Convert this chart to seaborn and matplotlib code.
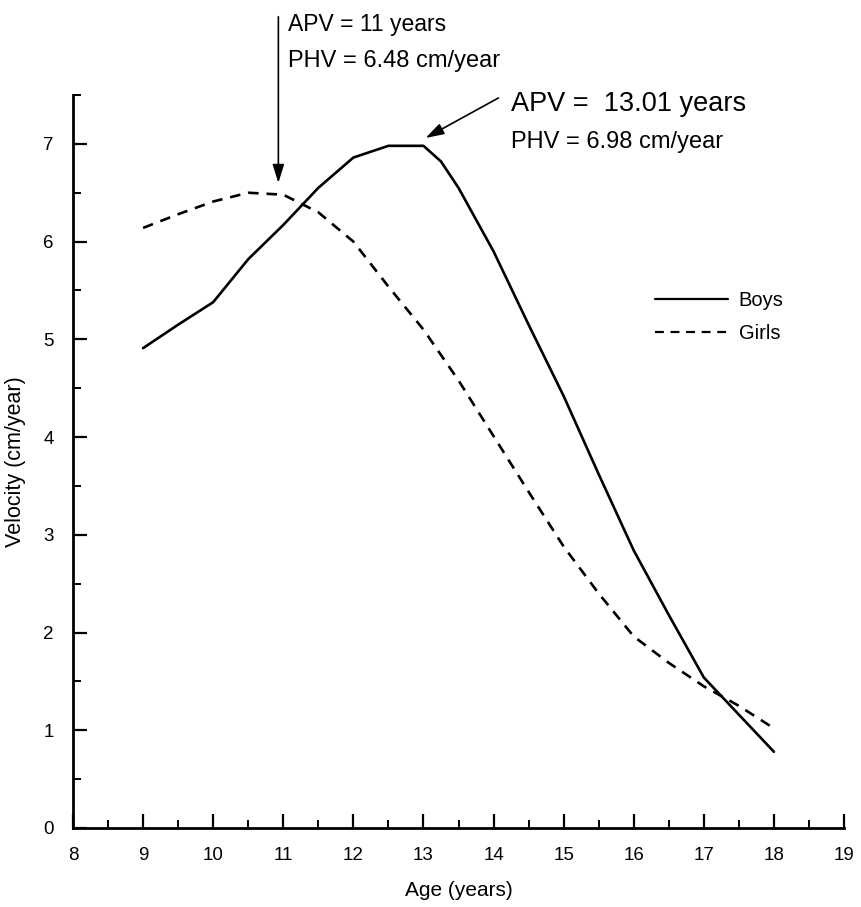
import matplotlib
matplotlib.use("Agg")
import matplotlib.pyplot as plt
from matplotlib.ticker import MultipleLocator
from matplotlib.lines import Line2D
import seaborn as sns
import pandas as pd

# Mean height velocity by age
boys_age = [9.0, 9.5, 10.0, 10.5, 11.0, 11.5, 12.0, 12.5, 13.0, 13.25, 13.5,
            14.0, 14.5, 15.0, 15.5, 16.0, 16.5, 17.0, 17.5, 18.0]
boys_vel = [4.91, 5.15, 5.38, 5.82, 6.17, 6.55, 6.86, 6.98, 6.98, 6.82, 6.55,
            5.90, 5.15, 4.42, 3.62, 2.84, 2.18, 1.54, 1.16, 0.78]

girls_age = [9.0, 9.5, 10.0, 10.5, 11.0, 11.5, 12.0, 12.5, 13.0, 13.5,
             14.0, 14.5, 15.0, 15.5, 16.0, 16.5, 17.0, 17.5, 18.0]
girls_vel = [6.14, 6.28, 6.41, 6.50, 6.48, 6.30, 6.00, 5.54, 5.10, 4.58,
             4.01, 3.44, 2.88, 2.40, 1.96, 1.69, 1.45, 1.25, 1.02]

x_ticks = list(range(8, 20))
y_ticks = list(range(0, 8))

df = pd.concat([
    pd.DataFrame({"Age": boys_age, "Velocity": boys_vel, "Sex": "Boys"}),
    pd.DataFrame({"Age": girls_age, "Velocity": girls_vel, "Sex": "Girls"}),
], ignore_index=True)

sns.set_theme(style="ticks")
plt.rcParams["font.family"] = ["Liberation Sans", "DejaVu Sans"]
plt.rcParams["text.color"] = "black"
plt.rcParams["axes.labelcolor"] = "black"

W, H = 861, 907
fig = plt.figure(figsize=(W / 100, H / 100), dpi=100)
ax = fig.add_axes([73 / W, 1 - 828 / H, (844 - 73) / W, (828 - 95) / H])

sns.lineplot(data=df, x="Age", y="Velocity", style="Sex",
             dashes={"Boys": "", "Girls": (4, 3)}, color="black",
             linewidth=1.9, ax=ax, legend=False, sort=False)

ax.set_xlim(8, 19)
ax.set_ylim(0, 7.5)
ax.set_xticks(x_ticks)
ax.set_yticks(y_ticks)
ax.xaxis.set_minor_locator(MultipleLocator(0.5))
ax.yaxis.set_minor_locator(MultipleLocator(0.5))
ax.tick_params(which="major", direction="in", length=10, width=1.6,
               labelsize=13.5, colors="black")
ax.tick_params(axis="y", which="major", pad=14)
ax.tick_params(axis="x", which="major", pad=14)
ax.tick_params(which="minor", direction="in", length=6, width=1.4, colors="black")
for side in ("top", "right"):
    ax.spines[side].set_visible(False)
for side in ("left", "bottom"):
    ax.spines[side].set_linewidth(2)
    ax.spines[side].set_color("black")

ax.set_xlabel("Age (years)", fontsize=15, labelpad=12)
ax.set_ylabel("Velocity (cm/year)", fontsize=15.5, labelpad=12)

# Legend drawn from the two line styles
handles = [Line2D([], [], color="black", lw=1.6, ls="-"),
           Line2D([], [], color="black", lw=1.6, ls=(0, (4, 3)))]
ax.legend(handles, ["Boys", "Girls"], loc="center left",
          bbox_to_anchor=(655 / W, 1 - 317 / H), bbox_transform=fig.transFigure,
          frameon=False, fontsize=14.5, handlelength=3.6, handletextpad=0.55,
          labelspacing=0.7, borderpad=0, borderaxespad=0)

# Peak annotations
girls_peak_age, girls_peak_vel = 11, 6.48
boys_peak_age, boys_peak_vel = 13.01, 6.98

ax.annotate("", xy=(10.93, 6.6), xytext=(10.93, 8.3),
            arrowprops=dict(arrowstyle="-|>,head_length=0.8,head_width=0.25",
                            color="black", lw=1.2,
                            mutation_scale=14, shrinkA=0, shrinkB=0),
            annotation_clip=False)
ax.text(11.07, 8.22, f"APV = {girls_peak_age} years", fontsize=16.5,
        va="center", ha="left")
ax.text(11.07, 7.85, f"PHV = {girls_peak_vel} cm/year", fontsize=17,
        va="center", ha="left")

ax.annotate("", xy=(13.03, 7.06), xytext=(14.07, 7.47),
            arrowprops=dict(arrowstyle="-|>,head_length=0.8,head_width=0.25",
                            color="black", lw=1.2,
                            mutation_scale=14, shrinkA=0, shrinkB=0),
            annotation_clip=False)
ax.text(14.25, 7.41, f"APV =  {boys_peak_age} years", fontsize=19.5,
        va="center", ha="left")
ax.text(14.25, 7.02, f"PHV = {boys_peak_vel} cm/year", fontsize=17,
        va="center", ha="left")

fig.savefig("out.png", dpi=100)
